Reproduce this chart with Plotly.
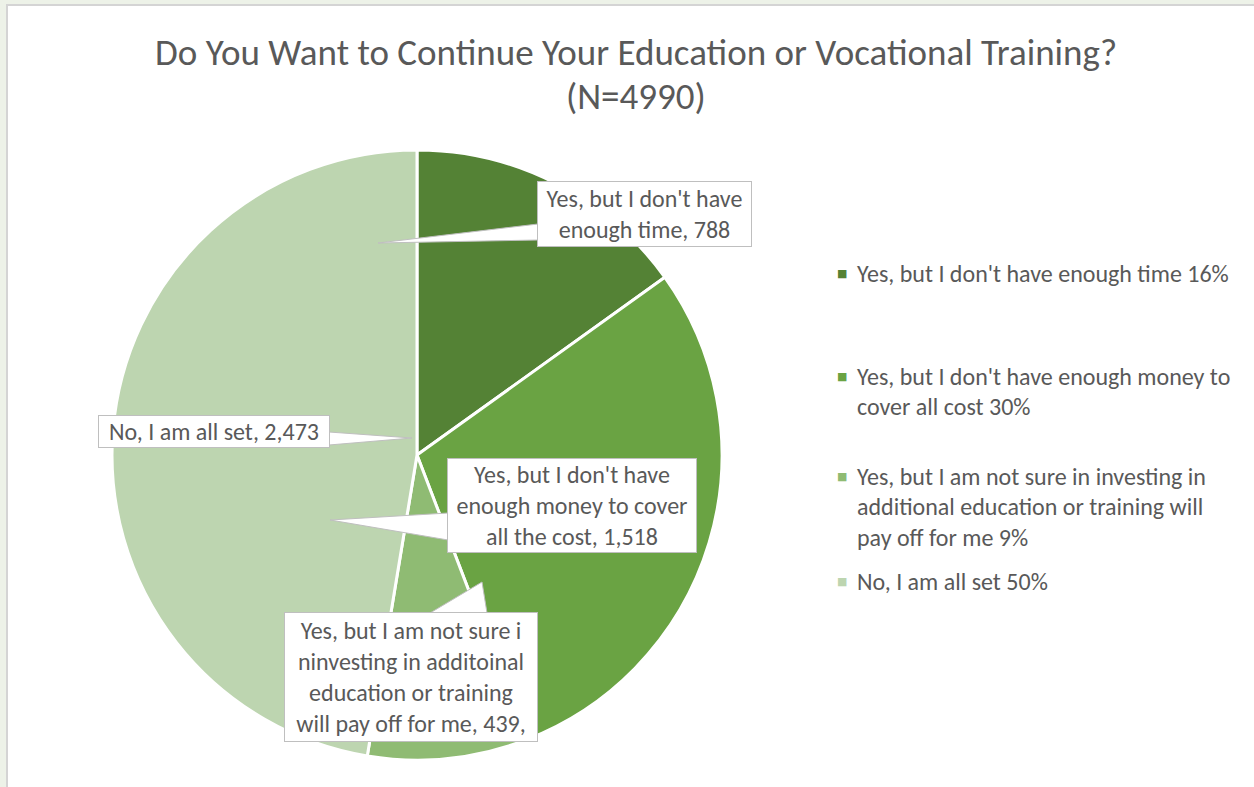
import plotly.graph_objects as go

# ---- data ----
legend_labels = [
    "Yes, but I don't have enough time 16%",
    "Yes, but I don't have enough money to<br>cover all cost 30%",
    "Yes, but I am not sure in investing in<br>additional education or training will<br>pay off for me 9%",
    "No, I am all set 50%",
]
values = [788, 1518, 439, 2473]
callout_names = [
    "Yes, but I don't have<br>enough time",
    "Yes, but I don't have<br>enough money to cover<br>all the cost",
    "Yes, but I am not sure i<br>ninvesting in additoinal<br>education or training<br>will pay off for me",
    "No, I am all set",
]
callout_suffix = ["", "", ",", ""]
colors = ["#548235", "#6aa343", "#8fbb73", "#bdd5b0"]
title_lines = ["Do You Want to Continue Your Education or Vocational Training?", "(N=4990)"]

W, H = 1254, 787
FONT = "Carlito, Calibri, 'Open Sans', sans-serif"
TXT = "#595959"


def px(x):
    return x / W


def py(y):
    return 1 - y / H


# pie placement (centre / radius in pixels)
cx, cy, r = 417, 455, 305

fig = go.Figure(
    go.Pie(
        labels=[l.replace("<br>", " ") for l in legend_labels],
        values=values,
        sort=False,
        direction="clockwise",
        rotation=0,
        marker=dict(colors=colors, line=dict(color="white", width=3)),
        textinfo="none",
        hoverinfo="label+value",
        domain=dict(x=[px(cx - r), px(cx + r)], y=[py(cy + r), py(cy - r)]),
        showlegend=False,
    )
)

shapes = [
    # white chart area with grey border over the textured page
    dict(type="rect", xref="paper", yref="paper", x0=px(7), x1=px(1262), y0=py(795), y1=py(5),
         fillcolor="white", line=dict(color="#d4d4d4", width=2), layer="below"),
]

# callout boxes: (x0, y0, x1, y1) in px, and pointer wedge (base1, base2, tip)
boxes = [
    ((537, 181, 752, 247), ((538, 224), (538, 240), (378, 243))),
    ((447, 458, 697, 553), ((448, 513), (448, 540), (330, 520))),
    ((284, 612, 538, 742), ((430, 613), (487, 613), (482, 582))),
    ((98, 415, 330, 448), ((329, 432), (329, 445), (412, 438))),
]

annotations = []
for i, ((x0, y0, x1, y1), (b1, b2, tip)) in enumerate(boxes):
    path = "M {} {} L {} {} L {} {} Z".format(
        px(b1[0]), py(b1[1]), px(tip[0]), py(tip[1]), px(b2[0]), py(b2[1]))
    shapes.append(dict(type="path", xref="paper", yref="paper", path=path,
                       fillcolor="white", line=dict(color="#bfbfbf", width=1), layer="above"))
    text = "{}, {:,}{}".format(callout_names[i], values[i], callout_suffix[i])
    annotations.append(dict(
        xref="paper", yref="paper", x=px((x0 + x1) / 2), y=py((y0 + y1) / 2),
        xanchor="center", yanchor="middle", text=text, showarrow=False,
        width=x1 - x0 - 2, height=y1 - y0 - 2, borderpad=0,
        bgcolor="white", bordercolor="#bfbfbf", borderwidth=1,
        font=dict(family=FONT, size=24, color=TXT), align="center",
    ))

# title
for j, (t, yy) in enumerate(zip(title_lines, [52, 97])):
    annotations.append(dict(xref="paper", yref="paper", x=px(636), y=py(yy), xanchor="center",
                            yanchor="middle", text=t, showarrow=False,
                            font=dict(family=FONT, size=37, color=TXT)))

# legend (manual, to reproduce Excel spacing)
legend_tops = [273, 376, 476, 581]
for i, lab in enumerate(legend_labels):
    annotations.append(dict(xref="paper", yref="paper", x=px(842), y=py(legend_tops[i]),
                            xanchor="center", yanchor="middle", text="■", showarrow=False,
                            font=dict(family="DejaVu Sans", size=11, color=colors[i])))
    for k, line in enumerate(lab.split("<br>")):
        annotations.append(dict(xref="paper", yref="paper", x=px(855), y=py(legend_tops[i] + 30.5 * k),
                                xanchor="left", yanchor="middle", text=line, showarrow=False,
                                font=dict(family=FONT, size=24, color=TXT)))

fig.update_layout(
    width=W, height=H,
    margin=dict(l=0, r=0, t=0, b=0),
    paper_bgcolor="#edf2e8",
    plot_bgcolor="white",
    shapes=shapes,
    annotations=annotations,
)

fig.write_html("out.html", config={"displayModeBar": False},
               post_script="document.body.style.margin='0';")
